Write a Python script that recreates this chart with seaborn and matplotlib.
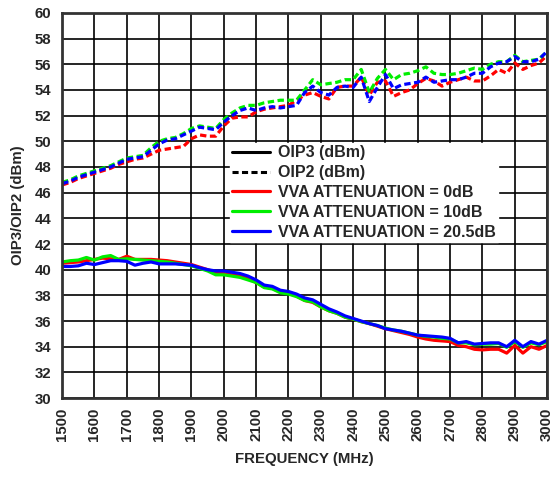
import matplotlib
matplotlib.use("Agg")
import matplotlib.pyplot as plt
from matplotlib.lines import Line2D
import seaborn as sns
import pandas as pd

# Data
freq_mhz = list(range(1500, 3001, 25))

oip2_0db = [46.6, 46.8, 47.1, 47.3, 47.5, 47.7, 47.9, 48.2, 48.4, 48.6, 48.7, 49.0, 49.3, 49.4, 49.5, 49.6,
            50.2, 50.5, 50.4, 50.4, 51.2, 51.8, 51.9, 51.9, 52.3, 52.5, 52.6, 52.7, 52.8, 53.2, 53.6, 53.8,
            53.5, 53.3, 54.2, 54.3, 54.3, 55.0, 53.6, 54.6, 54.7, 53.5, 53.8, 54.0, 54.5, 54.9, 54.7, 54.3,
            54.6, 54.8, 55.0, 54.7, 54.7, 55.1, 55.6, 55.3, 56.1, 55.6, 55.9, 56.1, 56.7]
oip2_10db = [46.8, 47.0, 47.3, 47.5, 47.7, 47.9, 48.1, 48.4, 48.7, 48.8, 48.9, 49.5, 50.0, 50.2, 50.3, 50.6,
             51.0, 51.2, 51.1, 51.0, 51.7, 52.2, 52.6, 52.8, 52.8, 53.0, 53.1, 53.2, 53.2, 53.2, 54.0, 54.8,
             54.4, 54.5, 54.6, 54.8, 54.8, 55.6, 53.8, 54.9, 55.6, 54.8, 55.2, 55.3, 55.5, 55.8, 55.3, 55.2,
             55.2, 55.3, 55.5, 55.7, 55.6, 56.0, 56.2, 56.2, 56.7, 56.2, 56.3, 56.4, 57.0]
oip2_20db = [46.7, 46.9, 47.2, 47.4, 47.6, 47.8, 48.0, 48.3, 48.6, 48.7, 48.8, 49.3, 49.8, 50.1, 50.2, 50.5,
             50.8, 51.1, 51.0, 50.9, 51.5, 52.0, 52.4, 52.6, 52.4, 52.6, 52.7, 52.6, 52.7, 52.8, 53.8, 54.3,
             53.8, 53.6, 54.2, 54.3, 54.2, 55.0, 53.1, 54.2, 55.2, 54.1, 54.4, 54.5, 54.6, 55.0, 54.6, 54.7,
             54.8, 54.8, 55.0, 55.3, 55.3, 55.8, 56.1, 56.2, 56.6, 56.2, 56.2, 56.4, 57.0]

oip3_0db = [40.5, 40.55, 40.6, 40.7, 40.8, 40.9, 40.85, 40.8, 41.05, 40.8, 40.8, 40.8, 40.75, 40.7, 40.6, 40.5,
            40.4, 40.2, 40.0, 39.8, 39.7, 39.6, 39.5, 39.3, 39.0, 38.65, 38.55, 38.25, 38.15, 37.95, 37.6, 37.45,
            37.1, 36.8, 36.6, 36.3, 36.15, 35.95, 35.8, 35.6, 35.4, 35.25, 35.1, 34.95, 34.75, 34.6, 34.5, 34.45,
            34.4, 34.1, 34.0, 33.8, 33.75, 33.8, 33.8, 33.5, 34.1, 33.5, 34.0, 33.8, 34.1]
oip3_10db = [40.6, 40.7, 40.75, 40.95, 40.75, 41.0, 41.1, 40.8, 40.85, 40.8, 40.75, 40.7, 40.65, 40.6, 40.5, 40.4,
             40.3, 40.1, 39.9, 39.6, 39.6, 39.5, 39.4, 39.2, 39.0, 38.6, 38.5, 38.2, 38.1, 37.9, 37.6, 37.5,
             37.1, 36.8, 36.6, 36.3, 36.15, 35.95, 35.8, 35.65, 35.45, 35.3, 35.2, 35.05, 34.9, 34.8, 34.75, 34.65,
             34.6, 34.3, 34.3, 34.15, 34.2, 34.2, 34.25, 33.95, 34.4, 33.95, 34.3, 34.15, 34.4]
oip3_20db = [40.25, 40.25, 40.3, 40.5, 40.4, 40.55, 40.7, 40.7, 40.65, 40.35, 40.5, 40.6, 40.45, 40.45, 40.45, 40.4,
             40.35, 40.15, 40.0, 39.9, 39.9, 39.8, 39.7, 39.5, 39.2, 38.8, 38.7, 38.4, 38.3, 38.1, 37.8, 37.65,
             37.3, 36.95, 36.7, 36.4, 36.2, 36.0, 35.8, 35.65, 35.4, 35.3, 35.2, 35.05, 34.9, 34.85, 34.8, 34.75,
             34.65, 34.3, 34.4, 34.2, 34.25, 34.3, 34.3, 34.0, 34.5, 34.0, 34.4, 34.2, 34.5]

atten_labels = ["0dB", "10dB", "20.5dB"]
atten_colors = ["#ff0000", "#00ee00", "#0000ff"]

rows = []
for lab, o3, o2 in zip(atten_labels, [oip3_0db, oip3_10db, oip3_20db], [oip2_0db, oip2_10db, oip2_20db]):
    for f, a, b in zip(freq_mhz, o3, o2):
        rows.append((f, a, "OIP3", lab))
        rows.append((f, b, "OIP2", lab))
df = pd.DataFrame(rows, columns=["freq", "value", "metric", "atten"])

sns.set_style("white")
plt.rcParams["font.family"] = ["Liberation Sans", "DejaVu Sans"]
plt.rcParams["font.weight"] = "bold"

FS = 10.8
fig = plt.figure(figsize=(5.55, 4.79), dpi=100)
ax = fig.add_axes([0.112, 0.169, 0.8738, 0.804])

sns.lineplot(data=df, x="freq", y="value", hue="atten", style="metric",
             hue_order=atten_labels, palette=atten_colors,
             style_order=["OIP3", "OIP2"], dashes={"OIP3": "", "OIP2": (2.0, 1.1)},
             linewidth=2.3, legend=False, ax=ax, estimator=None)

ax.set_xlim(1500, 3000)
ax.set_ylim(30, 60)
ax.set_xticks(range(1500, 3001, 100))
ax.set_yticks(range(30, 61, 2))
ax.tick_params(axis="x", rotation=90, labelsize=FS, length=0, pad=7)
ax.tick_params(axis="y", labelsize=FS, length=0, pad=8)
for t in ax.get_xticklabels() + ax.get_yticklabels():
    t.set_fontweight("bold")
ax.grid(True, color="black", linewidth=1.2)
ax.set_axisbelow(True)
for s in ax.spines.values():
    s.set_color("#333333")
    s.set_linewidth(2)

ax.set_xlabel("FREQUENCY (MHz)", fontsize=FS, fontweight="bold", labelpad=8)
ax.set_ylabel("OIP3/OIP2 (dBm)", fontsize=FS, fontweight="bold", labelpad=7)

LFS = 11.5
handles = [Line2D([], [], color="black", lw=2.2, ls="-"),
           Line2D([], [], color="black", lw=2.2, ls=(0, (2.0, 1.1))),
           Line2D([], [], color=atten_colors[0], lw=2.3),
           Line2D([], [], color=atten_colors[1], lw=2.3),
           Line2D([], [], color=atten_colors[2], lw=2.3)]
labels = ["OIP3 (dBm)", "OIP2 (dBm)", "VVA ATTENUATION = 0dB",
          "VVA ATTENUATION = 10dB", "VVA ATTENUATION = 20.5dB"]
leg = ax.legend(handles, labels, loc="upper left", bbox_to_anchor=(0.346, 0.662),
                frameon=True, fancybox=False, edgecolor="white", facecolor="white",
                framealpha=1, fontsize=LFS, handlelength=2.35, handletextpad=0.5,
                labelspacing=0.3, borderpad=0.15, borderaxespad=0)
for t in leg.get_texts():
    t.set_fontweight("bold")

fig.savefig("out.png", dpi=100)
